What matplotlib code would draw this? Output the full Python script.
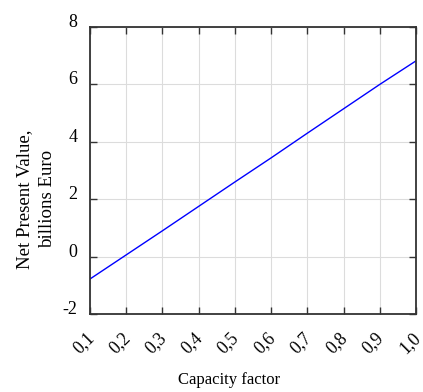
import matplotlib
matplotlib.use("Agg")
import matplotlib.pyplot as plt
from matplotlib.transforms import ScaledTranslation

plt.rcParams['font.family'] = ['Liberation Serif', 'DejaVu Serif']

capacity = [0.1, 0.2, 0.3, 0.4, 0.5, 0.6, 0.7, 0.8, 0.9, 1.0]
npv = [-0.78, 0.06, 0.90, 1.75, 2.60, 3.44, 4.30, 5.15, 6.00, 6.82]
x_ticks = [0.1, 0.2, 0.3, 0.4, 0.5, 0.6, 0.7, 0.8, 0.9, 1.0]
x_labels = ['0,1', '0,2', '0,3', '0,4', '0,5', '0,6', '0,7', '0,8', '0,9', '1,0']
y_ticks = [-2, 0, 2, 4, 6, 8]
y_labels = ['-2', '0', '2', '4', '6', '8']

fig = plt.figure(figsize=(4.23, 3.92), dpi=100)
ax = fig.add_axes([90/423, 1 - 314/392, (416-90)/423, (314-27)/392])
ax.plot(capacity, npv, color='#0000ff', lw=1.0)
ax.set_xlim(0.1, 1.0)
ax.set_ylim(-2, 8)
ax.set_xticks(x_ticks)
ax.set_xticklabels(x_labels, rotation=45, ha='center', va='top', fontsize=12.8)
ax.set_yticks(y_ticks)
ax.set_yticklabels(y_labels, fontsize=13, va='baseline')
ax.grid(True, color='#dcdcdc', lw=0.8)
ax.tick_params(direction='in', top=True, right=True, length=5, color='#333333', width=1.0)
ax.tick_params(axis='x', pad=11)
ax.tick_params(axis='y', pad=9)
off = ScaledTranslation(-6.5/100, 0, fig.dpi_scale_trans)
for lab in ax.get_xticklabels():
    lab.set_transform(lab.get_transform() + off)
for s in ax.spines.values():
    s.set_color('#333333')
    s.set_linewidth(1.3)
ax.set_xlabel('Capacity factor', fontsize=12, va='top')
ax.xaxis.set_label_coords((229-90)/326, (314-372)/287)
ax.set_ylabel('Net Present Value,\nbillions Euro', fontsize=13.6, linespacing=1.45)
ax.yaxis.set_label_coords((56-90)/326, (314-199)/287)
fig.savefig('out.png', dpi=100)
